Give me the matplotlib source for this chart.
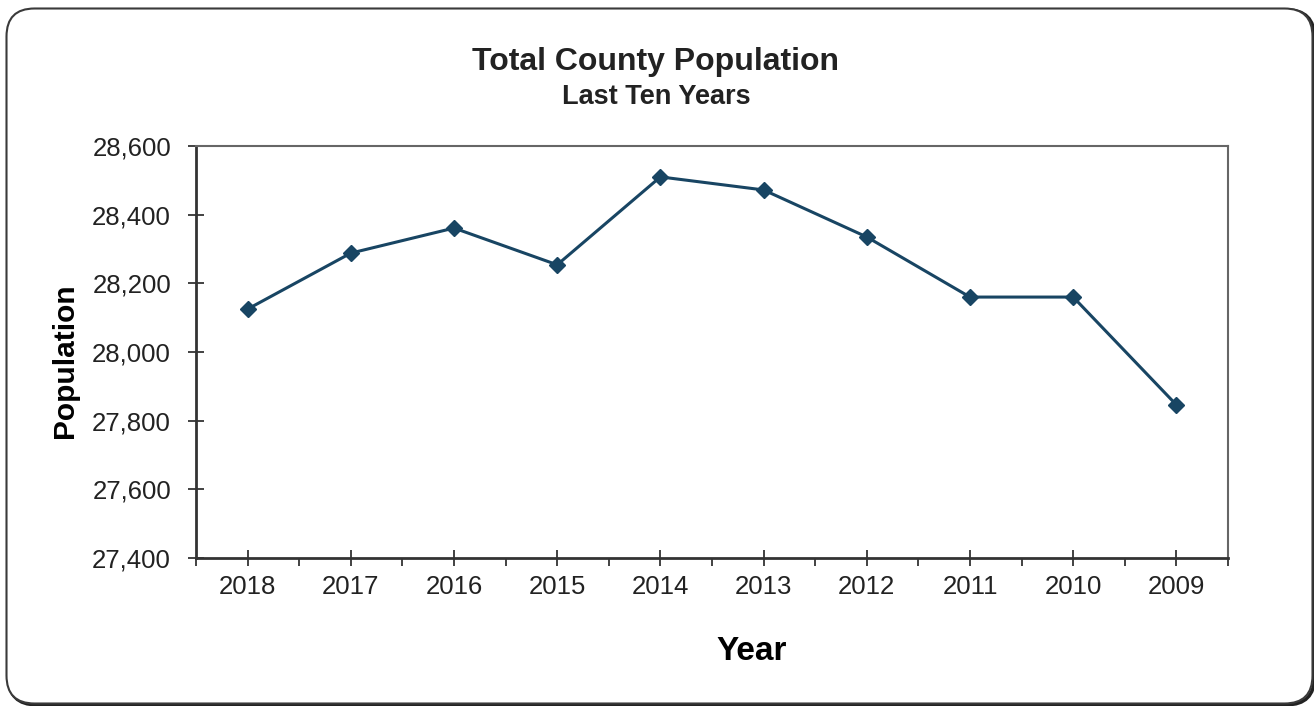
"""
Line chart of total county population over the last ten years.
"""

import matplotlib
matplotlib.use("Agg")
import matplotlib.pyplot as plt
from matplotlib.patches import FancyBboxPatch
from matplotlib.ticker import FuncFormatter, MultipleLocator, FixedLocator

years = ['2018', '2017', '2016', '2015', '2014', '2013', '2012', '2011', '2010', '2009']
population = [28125, 28288, 28361, 28254, 28510, 28472, 28335, 28160, 28160, 27846]

y_min, y_max, y_step = 27400, 28600, 200
line_color = '#184563'

plt.rcParams['font.family'] = ['Liberation Sans', 'DejaVu Sans']

fig = plt.figure(figsize=(13.14, 7.06), dpi=100)

# Rounded frame around the whole chart (in inches), with a slight drop shadow
shadow = FancyBboxPatch((0.085, 0.012), 13.06, 6.95,
                        boxstyle="round,pad=0,rounding_size=0.28",
                        transform=fig.dpi_scale_trans, facecolor='none',
                        edgecolor='#222222', linewidth=2.5, zorder=-2)
frame = FancyBboxPatch((0.065, 0.025), 13.06, 6.95,
                       boxstyle="round,pad=0,rounding_size=0.28",
                       transform=fig.dpi_scale_trans, facecolor='white',
                       edgecolor='#3a3a3a', linewidth=1.5, zorder=-1)
fig.patches.extend([shadow, frame])

ax = fig.add_axes([196 / 1314, 1 - 558 / 706, (1228 - 196) / 1314, (558 - 146) / 706])

x = list(range(len(years)))
ax.plot(x, population, color=line_color, linewidth=2.2, marker='D',
        markersize=8, markerfacecolor=line_color, markeredgecolor=line_color)

ax.set_xlim(-0.5, len(years) - 0.5)
ax.set_ylim(y_min, y_max)

# Category ticks cross the axis, boundary ticks point outward
ax.xaxis.set_major_locator(FixedLocator(x))
ax.xaxis.set_minor_locator(FixedLocator([i - 0.5 for i in range(len(years) + 1)]))
ax.set_xticklabels(years)
ax.tick_params(axis='x', which='major', direction='inout', length=12, width=1.2,
               labelsize=18.5, pad=6, colors='#222222')
ax.tick_params(axis='x', which='minor', direction='out', length=6, width=1.2,
               colors='#222222')

ax.yaxis.set_major_locator(MultipleLocator(y_step))
ax.yaxis.set_major_formatter(FuncFormatter(lambda v, p: f'{int(v):,}'))
ax.tick_params(axis='y', direction='inout', length=12, width=1.2, labelsize=18.5,
               pad=12, colors='#222222')

for side in ['left', 'bottom']:
    ax.spines[side].set_linewidth(2)
    ax.spines[side].set_color('#333333')
for side in ['top', 'right']:
    ax.spines[side].set_linewidth(1.5)
    ax.spines[side].set_color('#666666')

ax.set_ylabel('Population', fontsize=21.5, fontweight='bold')
ax.yaxis.set_label_coords(-0.127, 0.48)
ax.set_xlabel('Year', fontsize=24, fontweight='bold')
ax.xaxis.set_label_coords(0.538, -0.226)
ax.xaxis.label.set_va('center')
ax.yaxis.label.set_va('center')

fig.text(656 / 1314, 1 - 62 / 706, 'Total County Population', ha='center',
         va='center', fontsize=23, fontweight='bold', color='#222222')
fig.text(656 / 1314, 1 - 97 / 706, 'Last Ten Years', ha='center',
         va='center', fontsize=19.5, fontweight='bold', color='#222222')

fig.savefig('out.png', dpi=100)
